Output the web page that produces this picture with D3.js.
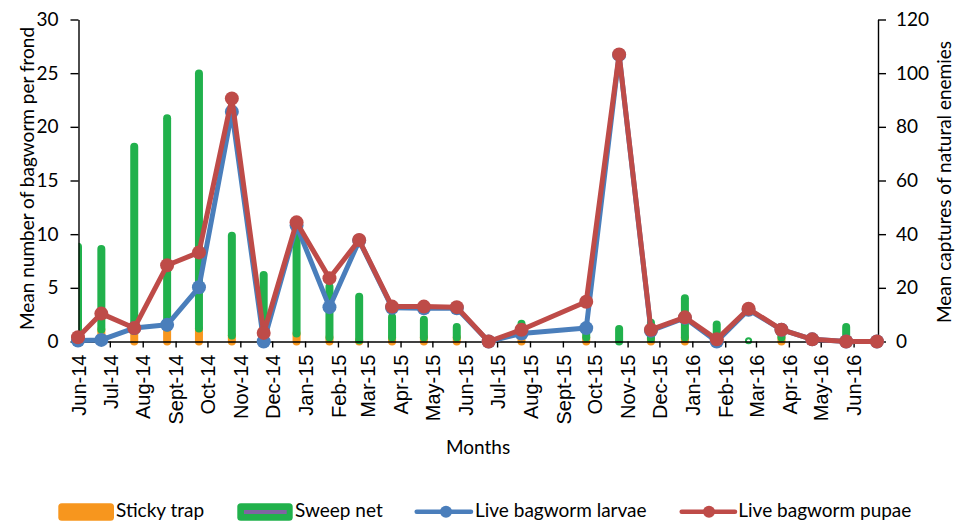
<!DOCTYPE html>
<html>
<head>
<meta charset="utf-8">
<script src="https://cdn.jsdelivr.net/npm/d3@7"></script>
<style>
  body { margin: 0; background: #fff; }
  svg { display: block; }
</style>
</head>
<body>
<svg id="chart" width="957" height="522"></svg>
<script>
// Sampling dates (one visit per month, Aug-15 not sampled)
const sampleDates = [
  "2014-06-01", "2014-06-23", "2014-07-24", "2014-08-24", "2014-09-23", "2014-10-24",
  "2014-11-23", "2014-12-24", "2015-01-24", "2015-02-21", "2015-03-24", "2015-04-23",
  "2015-05-24", "2015-06-23", "2015-07-24", "2015-09-23", "2015-10-24", "2015-11-23",
  "2015-12-25", "2016-01-24", "2016-02-23", "2016-03-25", "2016-04-23", "2016-05-25",
  "2016-06-23"
];

// Mean number of bagworm per frond (left axis)
const larvae = [0.1, 0.15, 1.25, 1.55, 5.05, 21.4, 0, 10.8, 3.2, 9.4, 3.15, 3.1,
                3.1, 0, 0.75, 1.25, 26.7, 1.0, 2.2, 0, 2.95, 1.1, 0.2, 0, 0];
const pupae  = [0.4, 2.6, 1.25, 7.1, 8.3, 22.65, 0.8, 11.1, 5.9, 9.45, 3.25, 3.25,
                3.2, 0, 1.1, 3.7, 26.75, 1.1, 2.25, 0.2, 3.05, 1.1, 0.2, 0, 0];

// Mean captures of natural enemies (right axis), stacked
const stickyTrap = [0, 4.5, 4, 5.2, 4.8, 2.2, 1, 3, 1.5, 0.5, 1.5, 1.5,
                    1.5, 0, 2.5, 1.5, 0, 1, 1.5, 0, 0, 1.5, 0, 0, 0];
const sweepNet   = [35.3, 30, 68.6, 78, 95.1, 37.2, 23.8, 38.3, 18.9, 16.2, 7.6, 6.6,
                    3.9, 0, 4.1, 1.4, 4.7, 6, 14.6, 6.3, 0.5, 3.2, 0, 5.4, 0];

const monthLabels = [
  "Jun-14", "Jul-14", "Aug-14", "Sept-14", "Oct-14", "Nov-14", "Dec-14",
  "Jan-15", "Feb-15", "Mar-15", "Apr-15", "May-15", "Jun-15", "Jul-15",
  "Aug-15", "Sept-15", "Oct-15", "Nov-15", "Dec-15", "Jan-16", "Feb-16",
  "Mar-16", "Apr-16", "May-16", "Jun-16"
];
const leftTicks = [0, 5, 10, 15, 20, 25, 30];
const rightTicks = [0, 20, 40, 60, 80, 100, 120];

const seriesNames = ["Sticky trap", "Sweep net", "Live bagworm larvae", "Live bagworm pupae"];
const colors = {
  sticky: "#f7961e",
  sweep: "#21b14c",
  sweepLine: "#8064a2",
  larvae: "#4a7ebb",
  pupae: "#be4b48"
};

const calibriLike = "Lato, 'Open Sans', sans-serif";
const arialLike = "'Liberation Sans', Arial, sans-serif";

const parse = d3.utcParse("%Y-%m-%d");
const dates = sampleDates.map(parse);

const svg = d3.select("#chart");

const plot = { left: 78.5, right: 878, top: 19.5, bottom: 341.5 };

const x = d3.scaleUtc()
  .domain([parse("2014-06-01"), parse("2016-06-24")])
  .range([78, 878]);
const yL = d3.scaleLinear().domain([0, 30]).range([plot.bottom, plot.top]);
const yR = d3.scaleLinear().domain([0, 120]).range([plot.bottom, plot.top]);

const monthTicks = d3.utcMonth.range(parse("2014-06-01"), parse("2016-06-02"));

// Clip for the capture bars so the first one stops at the left axis
svg.append("defs").append("clipPath").attr("id", "barClip")
  .append("rect")
  .attr("x", plot.left).attr("y", 0)
  .attr("width", plot.right - plot.left + 10).attr("height", 360);

// ---- Capture bars (rounded, stacked: sticky trap below sweep net) ----
const bw = 8, cap = bw / 2;
const bars = svg.append("g").attr("clip-path", "url(#barClip)");

function pill(g, cx, yTop, yBot, fill) {
  g.append("rect")
    .attr("x", cx - bw / 2)
    .attr("y", yTop - cap)
    .attr("width", bw)
    .attr("height", (yBot - yTop) + 2 * cap)
    .attr("rx", cap).attr("ry", cap)
    .attr("fill", fill);
}

dates.forEach((d, i) => {
  const cx = x(d);
  const o = stickyTrap[i], g = sweepNet[i];
  if (o > 0) pill(bars, cx, yR(o), yR(0), colors.sticky);
  if (g >= 1) {
    pill(bars, cx, yR(o + g), yR(o), colors.sweep);
  } else if (g > 0) {
    bars.append("circle")
      .attr("cx", cx).attr("cy", yR(o + g) + 0.6)
      .attr("r", 2.6)
      .attr("fill", "#fff")
      .attr("stroke", colors.sweep)
      .attr("stroke-width", 2);
  }
});

// ---- Axes ----
function styleAxis(g) {
  g.select(".domain").attr("stroke", "#000").attr("stroke-width", 1.4);
  g.selectAll(".tick line").attr("stroke", "#000").attr("stroke-width", 1.4);
}

const axLeft = svg.append("g")
  .attr("transform", `translate(${plot.left},0)`)
  .call(d3.axisLeft(yL).tickValues(leftTicks).tickSize(8).tickSizeOuter(0).tickPadding(12));
styleAxis(axLeft);
axLeft.selectAll("text")
  .attr("font-family", calibriLike).attr("font-size", 19).attr("fill", "#000");

const axRight = svg.append("g")
  .attr("transform", `translate(${plot.right},0)`)
  .call(d3.axisRight(yR).tickValues(rightTicks).tickSize(8).tickSizeOuter(0).tickPadding(10));
styleAxis(axRight);
axRight.selectAll("text")
  .attr("font-family", calibriLike).attr("font-size", 19).attr("fill", "#000");

const axBottom = svg.append("g")
  .attr("transform", `translate(0,${plot.bottom})`)
  .call(d3.axisBottom(x).tickValues(monthTicks).tickSize(6).tickSizeOuter(0)
    .tickFormat((d, i) => monthLabels[i]));
styleAxis(axBottom);
axBottom.selectAll(".tick").filter((d, i) => i === 0).select("line").remove();
axBottom.selectAll("text")
  .attr("font-family", arialLike).attr("font-size", 20).attr("fill", "#000")
  .attr("transform", "rotate(-90)")
  .attr("text-anchor", "end")
  .attr("x", -13).attr("y", 0).attr("dy", "0.36em");

// Axis titles
svg.append("text")
  .attr("transform", "translate(34,178.5) rotate(-90)")
  .attr("text-anchor", "middle")
  .attr("font-family", calibriLike).attr("font-size", 19)
  .text("Mean number of bagworm per frond");

svg.append("text")
  .attr("transform", "translate(951,182) rotate(-90)")
  .attr("text-anchor", "middle")
  .attr("font-family", calibriLike).attr("font-size", 19)
  .text("Mean captures of natural enemies");

svg.append("text")
  .attr("x", 478).attr("y", 454)
  .attr("text-anchor", "middle")
  .attr("font-family", calibriLike).attr("font-size", 19)
  .text("Months");

// ---- Bagworm lines ----
function drawSeries(values, color) {
  const pts = dates.map((d, i) => ({ d, v: values[i] }));
  const line = d3.line().x(p => x(p.d)).y(p => yL(p.v));
  const g = svg.append("g");
  g.append("path")
    .datum(pts)
    .attr("d", line)
    .attr("fill", "none")
    .attr("stroke", color)
    .attr("stroke-width", 5)
    .attr("stroke-linejoin", "round");
  g.selectAll("circle")
    .data(pts)
    .join("circle")
    .attr("cx", p => x(p.d))
    .attr("cy", p => yL(p.v))
    .attr("r", 7)
    .attr("fill", color);
}
drawSeries(larvae, colors.larvae);
drawSeries(pupae, colors.pupae);

// ---- Legend ----
const lg = svg.append("g").attr("font-family", calibriLike).attr("font-size", 19);

lg.append("rect").attr("x", 58.3).attr("y", 503.3).attr("width", 55.7).attr("height", 17.4)
  .attr("rx", 3.5).attr("fill", colors.sticky);
lg.append("text").attr("x", 116).attr("y", 516.7).text(seriesNames[0]);

lg.append("rect").attr("x", 237.3).attr("y", 503.3).attr("width", 55.4).attr("height", 17.4)
  .attr("rx", 3.5).attr("fill", colors.sweep);
lg.append("line").attr("x1", 244).attr("x2", 286.7).attr("y1", 512).attr("y2", 512)
  .attr("stroke", colors.sweepLine).attr("stroke-width", 4);
lg.append("text").attr("x", 295).attr("y", 516.7).text(seriesNames[1]);

lg.append("line").attr("x1", 416.7).attr("x2", 471).attr("y1", 511.7).attr("y2", 511.7)
  .attr("stroke", colors.larvae).attr("stroke-width", 4.5).attr("stroke-linecap", "round");
lg.append("circle").attr("cx", 446).attr("cy", 511.7).attr("r", 6).attr("fill", colors.larvae);
lg.append("text").attr("x", 475).attr("y", 516.7).text(seriesNames[2]);

lg.append("line").attr("x1", 681.7).attr("x2", 735).attr("y1", 511.7).attr("y2", 511.7)
  .attr("stroke", colors.pupae).attr("stroke-width", 4.5).attr("stroke-linecap", "round");
lg.append("circle").attr("cx", 709).attr("cy", 511.7).attr("r", 6).attr("fill", colors.pupae);
lg.append("text").attr("x", 738.3).attr("y", 516.7).text(seriesNames[3]);
</script>
</body>
</html>
